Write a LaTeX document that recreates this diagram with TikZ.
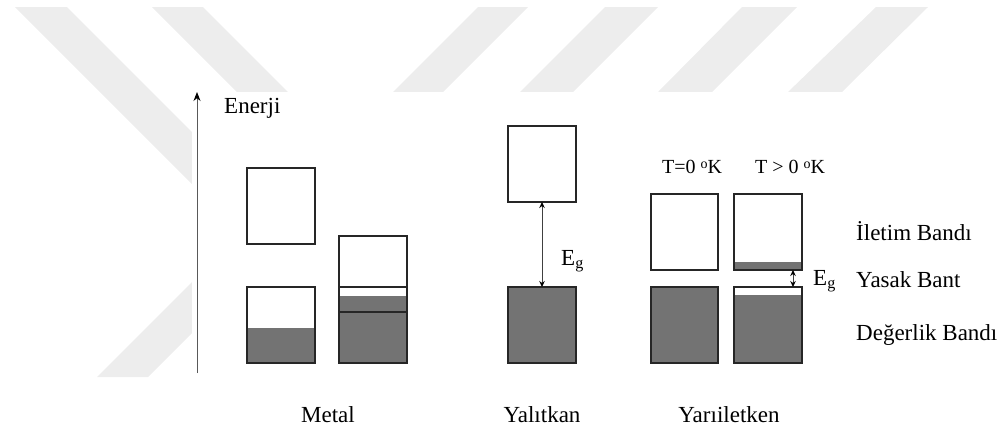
\documentclass[tikz,border=0pt]{standalone}
\usepackage{fontspec}
\setmainfont{Liberation Serif}
\usetikzlibrary{arrows.meta}
\begin{document}
\begin{tikzpicture}[x=1pt,y=-1pt,
  wm/.style={fill=black!7},
  band/.style={draw=black!85,line width=1.3pt,minimum width=68pt,minimum height=76pt,inner sep=0pt,outer sep=0pt},
  fillc/.style={fill=black!55},
  lab/.style={font=\fontsize{23}{27}\selectfont,inner sep=0pt},
  tlab/.style={font=\fontsize{20}{24}\selectfont,inner sep=0pt},
  gap/.style={draw=black!75,line width=0.9pt,{Stealth[length=6pt,width=5.5pt,color=black]}-{Stealth[length=6pt,width=5.5pt,color=black]}},
  axisline/.style={draw=black!65,line width=1pt,-{Stealth[length=9pt,width=7pt,color=black]}}
]
\useasboundingbox (0,0) rectangle (1002,432);
% watermark stripes
\fill[wm] (15,7) -- (67,7) -- (260,200) -- (208,200) -- cycle;
\fill[wm] (152,7) -- (203,7) -- (288,92) -- (237,92) -- cycle;
\fill[wm] (478,7) -- (528,7) -- (443,92) -- (393,92) -- cycle;
\fill[wm] (605,7) -- (658,7) -- (573,92) -- (520,92) -- cycle;
\fill[wm] (742,7) -- (797,7) -- (712,92) -- (658,92) -- cycle;
\fill[wm] (876,7) -- (928,7) -- (842,92) -- (788,92) -- cycle;
\fill[wm] (97,377) -- (148,377) -- (250,275) -- (199,275) -- cycle;
\fill[white] (192,92) rectangle (1002,432);

% fills
\fill[fillc] (247,328) rectangle (315,363);
\fill[fillc] (339,296) rectangle (407,363);
\fill[fillc] (508,287) rectangle (576,363);
\fill[fillc] (651,287) rectangle (718,363);
\fill[fillc] (734,262) rectangle (802,270);
\fill[fillc] (734,295) rectangle (802,363);

% bands
\node[band] (m1c) at (281,206) {};
\node[band] (m1v) at (281,325) {};
\node[band] (m2c) at (373,274) {};
\node[band] (m2v) at (373,325) {};
\node[band] (yc) at (542,164) {};
\node[band] (yv) at (542,325) {};
\node[band,minimum width=67pt] (sac) at (684.5,232) {};
\node[band,minimum width=67pt] (sav) at (684.5,325) {};
\node[band] (sbc) at (768,232) {};
\node[band] (sbv) at (768,325) {};

% axis
\coordinate (a0) at (197,373);
\coordinate (a1) at (197,92);
\draw[axisline] (a0) -- (a1);

% gaps
\draw[gap] (yc.south) -- (yv.north);
\draw[gap] ([xshift=-9pt]sbc.south east) -- ([xshift=-9pt]sbv.north east);

% labels
\node[lab,anchor=base west] (en) at (224,113) {Enerji};
\node[lab,anchor=base] (metal) at (328,422) {Metal};
\node[lab,anchor=base] (yal) at (542,422) {Yalıtkan};
\node[lab,anchor=base] (yar) at (729,422) {Yarıiletken};
\node[tlab,anchor=base] (t0) at (692,173) {T=0 {\fontsize{14}{14}\selectfont\raisebox{5pt}{o}}K};
\node[tlab,anchor=base] (t1) at (790,173) {T > 0 {\fontsize{14}{14}\selectfont\raisebox{5pt}{o}}K};
\node[lab,anchor=base west] (eg1) at (561,265) {E\textsubscript{g}};
\node[lab,anchor=base west] (eg2) at (813,285) {E\textsubscript{g}};
\node[lab,anchor=base west] (il) at (856,240) {İletim Bandı};
\node[lab,anchor=base west] (ys) at (856,287) {Yasak Bant};
\node[lab,anchor=base west] (dg) at (856,340) {Değerlik Bandı};
\end{tikzpicture}
\end{document}
